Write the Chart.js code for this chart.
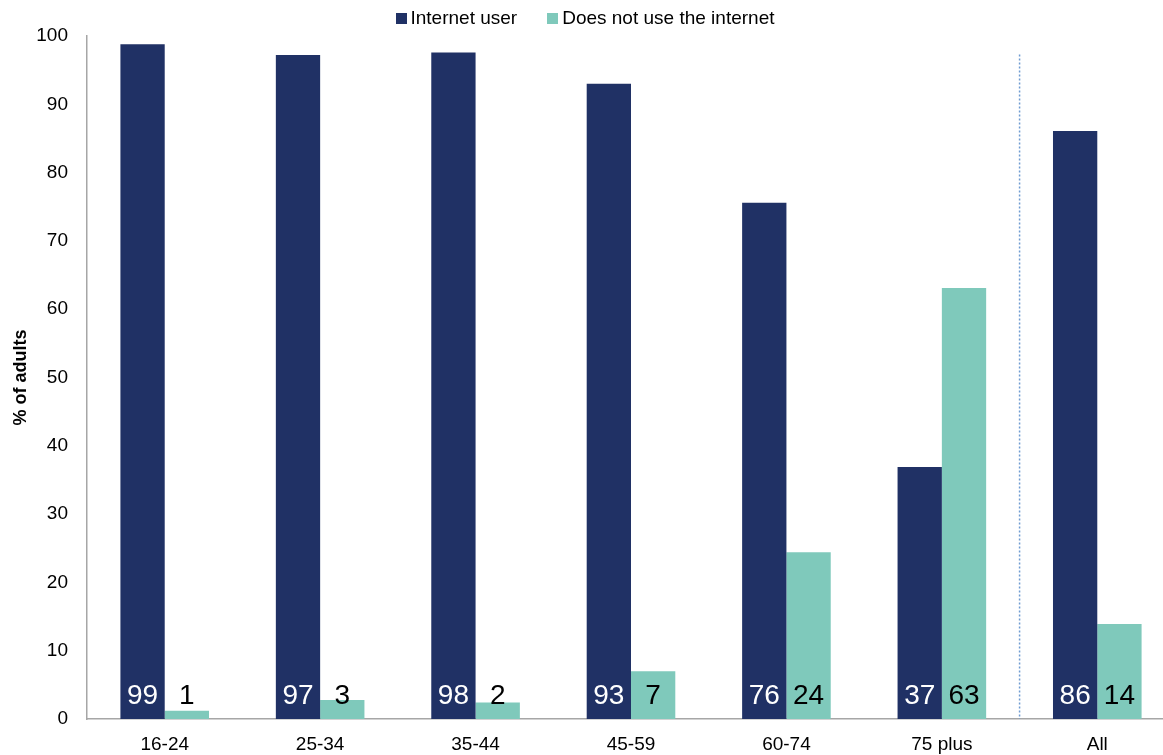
<!DOCTYPE html>
<html>
<head>
<meta charset="utf-8">
<script src="https://cdn.jsdelivr.net/npm/chart.js@4.4.1/dist/chart.umd.min.js"></script>
<style>
  html, body { margin: 0; padding: 0; background: #fff; overflow: hidden; }
  #wrap { width: 1175px; height: 755px; position: relative; }
  #legend {
    position: absolute; top: 7px; left: 0; width: 1170px;
    display: flex; justify-content: center; gap: 30px;
    font: 19px 'Liberation Sans', Arial, sans-serif; color: #000;
  }
  #legend .item { display: flex; align-items: center; }
  #legend .swatch { width: 11px; height: 11px; margin-right: 4px; }
</style>
</head>
<body>
<div id="wrap">
  <canvas id="usageChart"></canvas>
  <div id="legend"></div>
</div>
<script>
// Internet use by age group, % of adults
const ageGroups = ['16-24', '25-34', '35-44', '45-59', '60-74', '75 plus', 'All'];
const internetUser = [98.8, 97.2, 97.6, 93.0, 75.6, 36.9, 86.1];
const nonUser = [1.2, 2.8, 2.4, 7.0, 24.4, 63.1, 13.9];
const yTicks = [0, 10, 20, 30, 40, 50, 60, 70, 80, 90, 100];

const NAVY = '#203165';
const TEAL = '#7fc9bb';
const FONT = "'Liberation Sans', Arial, sans-serif";

// Rounded value labels sitting at the foot of each bar
const barLabels = {
    id: 'barLabels',
    afterDatasetsDraw(chart) {
        const ctx = chart.ctx;
        const bottom = chart.chartArea.bottom;
        ctx.save();
        ctx.font = '28px ' + FONT;
        ctx.textAlign = 'center';
        ctx.textBaseline = 'middle';
        chart.data.datasets.forEach((ds, i) => {
            const meta = chart.getDatasetMeta(i);
            ctx.fillStyle = i === 0 ? '#ffffff' : '#000000';
            meta.data.forEach((bar, j) => {
                ctx.fillText(Math.round(ds.data[j]), bar.x, bottom - 23);
            });
        });
        ctx.restore();
    }
};

// Dotted divider between the age groups and the "All" total
const divider = {
    id: 'divider',
    afterDraw(chart) {
        const x = chart.scales.x;
        const y = chart.scales.y;
        const px = (x.getPixelForValue(5) + x.getPixelForValue(6)) / 2;
        const ctx = chart.ctx;
        ctx.save();
        ctx.strokeStyle = '#6f9bd1';
        ctx.lineWidth = 1.5;
        ctx.setLineDash([2, 2]);
        ctx.beginPath();
        ctx.moveTo(px, y.getPixelForValue(97.3));
        ctx.lineTo(px, chart.chartArea.bottom);
        ctx.stroke();
        ctx.restore();
    }
};

// Legend built from the chart's own dataset list
const htmlLegend = {
    id: 'htmlLegend',
    afterUpdate(chart) {
        const box = document.getElementById('legend');
        box.innerHTML = '';
        chart.data.datasets.forEach(ds => {
            const item = document.createElement('div');
            item.className = 'item';
            const sw = document.createElement('span');
            sw.className = 'swatch';
            sw.style.background = ds.backgroundColor;
            const txt = document.createElement('span');
            txt.textContent = ds.label;
            item.appendChild(sw);
            item.appendChild(txt);
            box.appendChild(item);
        });
    }
};

new Chart(document.getElementById('usageChart'), {
    type: 'bar',
    data: {
        labels: ageGroups,
        datasets: [
            { label: 'Internet user', data: internetUser, backgroundColor: NAVY },
            { label: 'Does not use the internet', data: nonUser, backgroundColor: TEAL }
        ]
    },
    options: {
        responsive: true,
        maintainAspectRatio: false,
        animation: false,
        categoryPercentage: 0.57,
        barPercentage: 1.0,
        layout: { padding: { top: 36, right: 0, bottom: 0, left: 0 } },
        plugins: {
            legend: { display: false },
            tooltip: { enabled: false }
        },
        scales: {
            x: {
                afterFit: scale => { scale.height = 36; },
                grid: { display: false, drawTicks: false },
                border: { color: '#a6a6a6', width: 1.5 },
                ticks: { font: { family: FONT, size: 19 }, color: '#000', padding: 14 }
            },
            y: {
                min: 0,
                max: 100,
                afterBuildTicks: scale => { scale.ticks = yTicks.map(v => ({ value: v })); },
                afterFit: scale => { scale.width = 87; },
                grid: { display: false, drawTicks: false },
                border: { color: '#a6a6a6', width: 1.5 },
                ticks: { font: { family: FONT, size: 19 }, color: '#000', padding: 19 },
                title: {
                    display: true,
                    text: '% of adults',
                    font: { family: FONT, size: 18, weight: 'bold' },
                    color: '#000',
                    padding: { top: 10, bottom: 0 }
                }
            }
        }
    },
    plugins: [barLabels, divider, htmlLegend]
});
</script>
</body>
</html>
